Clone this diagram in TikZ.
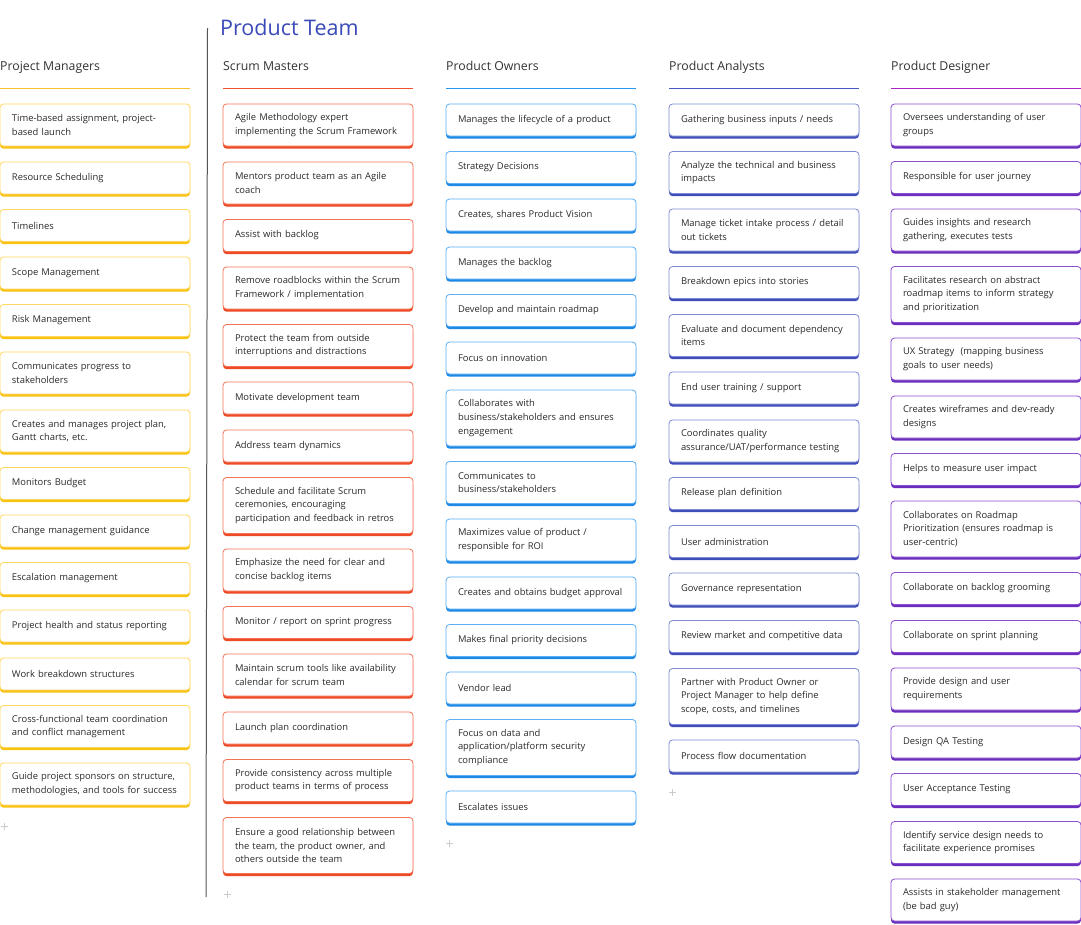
\documentclass[tikz,border=0pt]{standalone}
\usepackage{fontspec}
\setmainfont{Open Sans}
\usetikzlibrary{shadows}
\definecolor{txt}{HTML}{2B2B2B}
\definecolor{hd}{HTML}{333333}
\definecolor{titlec}{HTML}{3A4AB8}
\definecolor{pmlight}{HTML}{FFD75E}
\definecolor{pmdark}{HTML}{F8C210}
\definecolor{pmline}{HTML}{FBC02D}
\definecolor{smlight}{HTML}{F47256}
\definecolor{smdark}{HTML}{EE4A25}
\definecolor{smline}{HTML}{F0522E}
\definecolor{polight}{HTML}{5AAFF5}
\definecolor{podark}{HTML}{1E88E5}
\definecolor{poline}{HTML}{2B98F0}
\definecolor{palight}{HTML}{7F8BD4}
\definecolor{padark}{HTML}{3F4DB8}
\definecolor{paline}{HTML}{4A55C6}
\definecolor{pdlight}{HTML}{8C4FD0}
\definecolor{pddark}{HTML}{6A2EBE}
\definecolor{pdline}{HTML}{A626C4}
\definecolor{plusc}{HTML}{CCCCCC}
\definecolor{vline}{HTML}{555555}
\tikzset{
  card/.style={draw=#1light, fill=white, line width=0.8pt, rounded corners=3.5pt,
    anchor=north west, inner xsep=12pt, inner ysep=2pt, outer sep=0pt,
    text width=166pt, align=left, text=txt,
    font=\fontsize{9.4}{13.7}\selectfont,
    general shadow={fill=#1dark, shadow yshift=-2.6pt, shadow xshift=0pt}},
  one/.style={minimum height=32pt},
  two/.style={minimum height=42pt},
  three/.style={minimum height=56pt},
  head/.style={anchor=base west, inner sep=0pt, text=hd, font=\fontsize{12.3}{15}\selectfont},
  hline/.style={line width=1.3pt},
  plus/.style={plusc, line width=0.8pt}
}
\begin{document}
\begin{tikzpicture}[x=1pt,y=-1pt]
\useasboundingbox (0,0) rectangle (1081,924);
\fill[white] (0,0) rectangle (1081,924);

\node[anchor=base west, inner sep=0pt, text=titlec, font=\fontsize{21.5}{26}\selectfont] (title) at (220,35) {Product Team};
\draw[vline, line width=1pt] (207.5,28) -- (206,897);

% headers
\node[head] (hpm) at (0,70) {Project Managers};
\node[head] (hsm) at (223,70) {Scrum Masters};
\node[head] (hpo) at (446,70) {Product Owners};
\node[head] (hpa) at (669,70) {Product Analysts};
\node[head] (hpd) at (891,70) {Product Designer};
\draw[pmline, hline] (0,88.5) -- (190,88.5);
\draw[smline, hline] (223,88.5) -- (413,88.5);
\draw[poline, hline] (446,88.5) -- (636,88.5);
\draw[paline, hline] (669,88.5) -- (859,88.5);
\draw[pdline, hline] (891,88.5) -- (1081,88.5);

% Project Managers
\node[card=pm, two] (pm1) at (0,104) {Time-based assignment, project-\\based launch};
\node[card=pm, one] (pm2) at (0,162) {Resource Scheduling};
\node[card=pm, one] (pm3) at (0,209.5) {Timelines};
\node[card=pm, one] (pm4) at (0,257) {Scope Management};
\node[card=pm, one] (pm5) at (0,304.5) {Risk Management};
\node[card=pm, two] (pm6) at (0,352) {Communicates progress to\\stakeholders};
\node[card=pm, two] (pm7) at (0,410) {Creates and manages project plan,\\Gantt charts, etc.};
\node[card=pm, one] (pm8) at (0,467.5) {Monitors Budget};
\node[card=pm, one] (pm9) at (0,515) {Change management guidance};
\node[card=pm, one] (pm10) at (0,562.5) {Escalation management};
\node[card=pm, one] (pm11) at (0,610) {Project health and status reporting};
\node[card=pm, one] (pm12) at (0,658) {Work breakdown structures};
\node[card=pm, two] (pm13) at (0,705.5) {Cross-functional team coordination\\and conflict management};
\node[card=pm, two] (pm14) at (0,763) {Guide project sponsors on structure,\\methodologies, and tools for success};

% Scrum Masters
\node[card=sm, two] (sm1) at (223,104) {Agile Methodology expert\\implementing the Scrum Framework};
\node[card=sm, two] (sm2) at (223,162) {Mentors product team as an Agile\\coach};
\node[card=sm, one] (sm3) at (223,219.5) {Assist with backlog};
\node[card=sm, two] (sm4) at (223,267) {Remove roadblocks within the Scrum\\Framework / implementation};
\node[card=sm, two] (sm5) at (223,324.5) {Protect the team from outside\\interruptions and distractions};
\node[card=sm, one] (sm6) at (223,382) {Motivate development team};
\node[card=sm, one] (sm7) at (223,430) {Address team dynamics};
\node[card=sm, three] (sm8) at (223,477.5) {Schedule and facilitate Scrum\\ceremonies, encouraging\\participation and feedback in retros};
\node[card=sm, two] (sm9) at (223,549) {Emphasize the need for clear and\\concise backlog items};
\node[card=sm, one] (sm10) at (223,606.5) {Monitor / report on sprint progress};
\node[card=sm, two] (sm11) at (223,654) {Maintain scrum tools like availability\\calendar for scrum team};
\node[card=sm, one] (sm12) at (223,712) {Launch plan coordination};
\node[card=sm, two] (sm13) at (223,759.5) {Provide consistency across multiple\\product teams in terms of process};
\node[card=sm, three] (sm14) at (223,817.5) {Ensure a good relationship between\\the team, the product owner, and\\others outside the team};

% Product Owners
\node[card=po, one] (po1) at (446,104) {Manages the lifecycle of a product};
\node[card=po, one] (po2) at (446,151.5) {Strategy Decisions};
\node[card=po, one] (po3) at (446,199) {Creates, shares Product Vision};
\node[card=po, one] (po4) at (446,247) {Manages the backlog};
\node[card=po, one] (po5) at (446,294.5) {Develop and maintain roadmap};
\node[card=po, one] (po6) at (446,342) {Focus on innovation};
\node[card=po, three] (po7) at (446,390) {Collaborates with\\business/stakeholders and ensures\\engagement};
\node[card=po, two] (po8) at (446,461.5) {Communicates to\\business/stakeholders};
\node[card=po, two] (po9) at (446,519) {Maximizes value of product /\\responsible for ROI};
\node[card=po, one] (po10) at (446,577) {Creates and obtains budget approval};
\node[card=po, one] (po11) at (446,624.5) {Makes final priority decisions};
\node[card=po, one] (po12) at (446,672) {Vendor lead};
\node[card=po, three] (po13) at (446,719.5) {Focus on data and\\application/platform security\\compliance};
\node[card=po, one] (po14) at (446,791) {Escalates issues};

% Product Analysts
\node[card=pa, one] (pa1) at (669,104) {Gathering business inputs / needs};
\node[card=pa, two] (pa2) at (669,151.5) {Analyze the technical and business\\impacts};
\node[card=pa, two] (pa3) at (669,209) {Manage ticket intake process / detail\\out tickets};
\node[card=pa, one] (pa4) at (669,266.5) {Breakdown epics into stories};
\node[card=pa, two] (pa5) at (669,314.5) {Evaluate and document dependency\\items};
\node[card=pa, one] (pa6) at (669,372) {End user training / support};
\node[card=pa, two] (pa7) at (669,420) {Coordinates quality\\assurance/UAT/performance testing};
\node[card=pa, one] (pa8) at (669,477.5) {Release plan definition};
\node[card=pa, one] (pa9) at (669,525.5) {User administration};
\node[card=pa, one] (pa10) at (669,573) {Governance representation};
\node[card=pa, one] (pa11) at (669,620.5) {Review market and competitive data};
\node[card=pa, three] (pa12) at (669,668.5) {Partner with Product Owner or\\Project Manager to help define\\scope, costs, and timelines};
\node[card=pa, one] (pa13) at (669,740) {Process flow documentation};

% Product Designer
\node[card=pd, two] (pd1) at (891,104) {Oversees understanding of user\\groups};
\node[card=pd, one] (pd2) at (891,161.5) {Responsible for user journey};
\node[card=pd, two] (pd3) at (891,209) {Guides insights and research\\gathering, executes tests};
\node[card=pd, three] (pd4) at (891,266.5) {Facilitates research on abstract\\roadmap items to inform strategy\\and prioritization};
\node[card=pd, two] (pd5) at (891,338) {UX Strategy\ \ (mapping business\\goals to user needs)};
\node[card=pd, two] (pd6) at (891,396) {Creates wireframes and dev-ready\\designs};
\node[card=pd, one] (pd7) at (891,453.5) {Helps to measure user impact};
\node[card=pd, three] (pd8) at (891,501) {Collaborates on Roadmap\\Prioritization (ensures roadmap is\\user-centric)};
\node[card=pd, one] (pd9) at (891,572.5) {Collaborate on backlog grooming};
\node[card=pd, one] (pd10) at (891,620.5) {Collaborate on sprint planning};
\node[card=pd, two] (pd11) at (891,668) {Provide design and user\\requirements};
\node[card=pd, one] (pd12) at (891,726) {Design QA Testing};
\node[card=pd, one] (pd13) at (891,773.5) {User Acceptance Testing};
\node[card=pd, two] (pd14) at (891,821.5) {Identify service design needs to\\facilitate experience promises};
\node[card=pd, two] (pd15) at (891,879) {Assists in stakeholder management\\(be bad guy)};

% plus signs
\foreach \px/\py in {4.5/826.5, 227/894, 449.5/843.5, 672.5/792.5}{
  \draw[plus] (\px-3.5,\py) -- (\px+3.5,\py) (\px,\py-3.5) -- (\px,\py+3.5);
}
\end{tikzpicture}
\end{document}
